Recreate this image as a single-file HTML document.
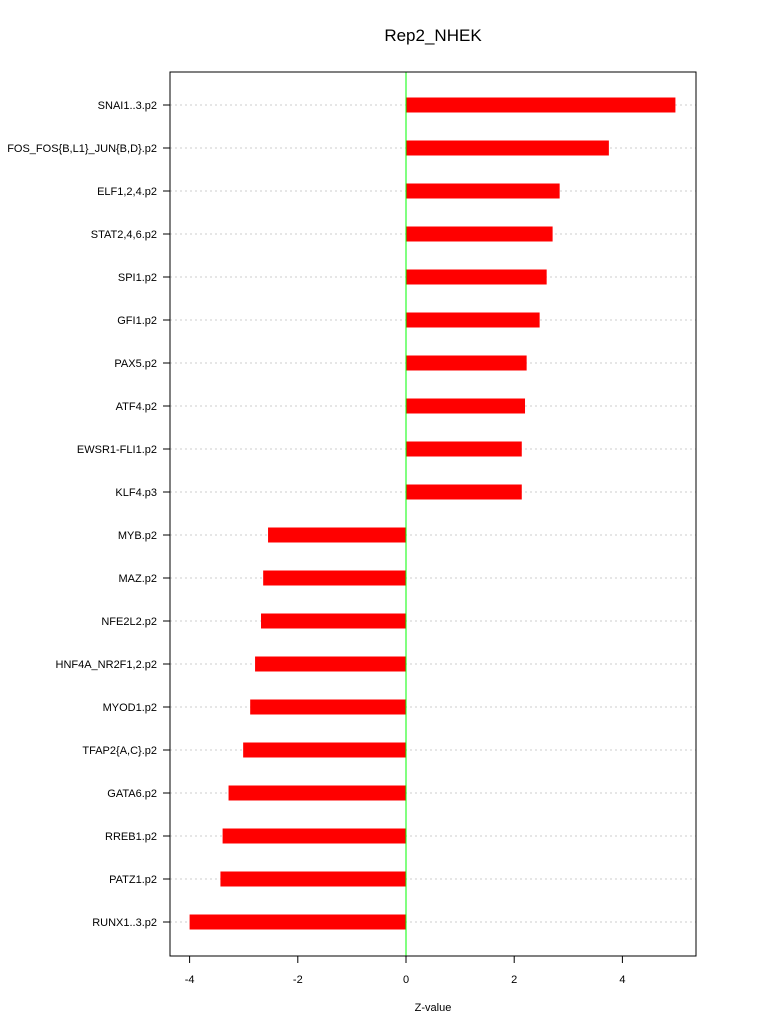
<!DOCTYPE html>
<html><head><meta charset="utf-8"><style>
body{margin:0;background:#fff}
svg text{font-family:"Liberation Sans",sans-serif}
</style></head><body>
<svg id="c" width="768" height="1028">
<text x="433" y="41" font-size="17" text-anchor="middle">Rep2_NHEK</text>
<g id="grid"></g><g id="bars"></g>
<rect x="170" y="72" width="526" height="884" fill="none" stroke="#000" stroke-width="1"/>
<g id="axes"></g>
<text x="433" y="1011" font-size="11" text-anchor="middle">Z-value</text>
</svg>
<script>
const categories=["SNAI1..3.p2","FOS_FOS{B,L1}_JUN{B,D}.p2","ELF1,2,4.p2","STAT2,4,6.p2","SPI1.p2","GFI1.p2","PAX5.p2","ATF4.p2","EWSR1-FLI1.p2","KLF4.p3","MYB.p2","MAZ.p2","NFE2L2.p2","HNF4A_NR2F1,2.p2","MYOD1.p2","TFAP2{A,C}.p2","GATA6.p2","RREB1.p2","PATZ1.p2","RUNX1..3.p2"];
const values=[4.98,3.75,2.84,2.71,2.60,2.47,2.23,2.20,2.14,2.14,-2.55,-2.64,-2.68,-2.79,-2.88,-3.01,-3.28,-3.39,-3.43,-4.0];
const ticks=[-4,-2,0,2,4];
const NS="http://www.w3.org/2000/svg";
const xs=v=>406+v*54.1;
const ys=i=>105+i*43;
function mk(t,a,p){const e=document.createElementNS(NS,t);for(const k in a)e.setAttribute(k,a[k]);p.appendChild(e);return e;}
const g=document.getElementById('grid'),b=document.getElementById('bars'),ax=document.getElementById('axes');
categories.forEach((c,i)=>{
 const y=ys(i);
 const l=mk('line',{x1:170,x2:696,y1:y,y2:y,stroke:'#ccc','stroke-dasharray':'2,3'},g);
 
 
 const v=values[i];
 const r=mk('rect',{x:Math.min(xs(0),xs(v)),y:y-7.5,width:Math.abs(xs(v)-xs(0)),height:15,fill:'#ff0000'},b);
 
 
 const tk=mk('line',{x1:163,x2:170,y1:y,y2:y,stroke:'#000'},ax);
 
 
 const t=mk('text',{x:157,y:y+4,'font-size':11,'text-anchor':'end'},ax);
 t.textContent=c;
 
 
});
const z=mk('line',{x1:xs(0),x2:xs(0),y1:72,y2:956,stroke:'#00ff00'},b);


ticks.forEach(v=>{
 const x=xs(v);
 const tk=mk('line',{x1:x,x2:x,y1:956,y2:963,stroke:'#000'},ax);
 
 
 const t=mk('text',{x:x,y:983,'font-size':11,'text-anchor':'middle'},ax);
 t.textContent=v;
 
 
});
</script>
</body></html>
